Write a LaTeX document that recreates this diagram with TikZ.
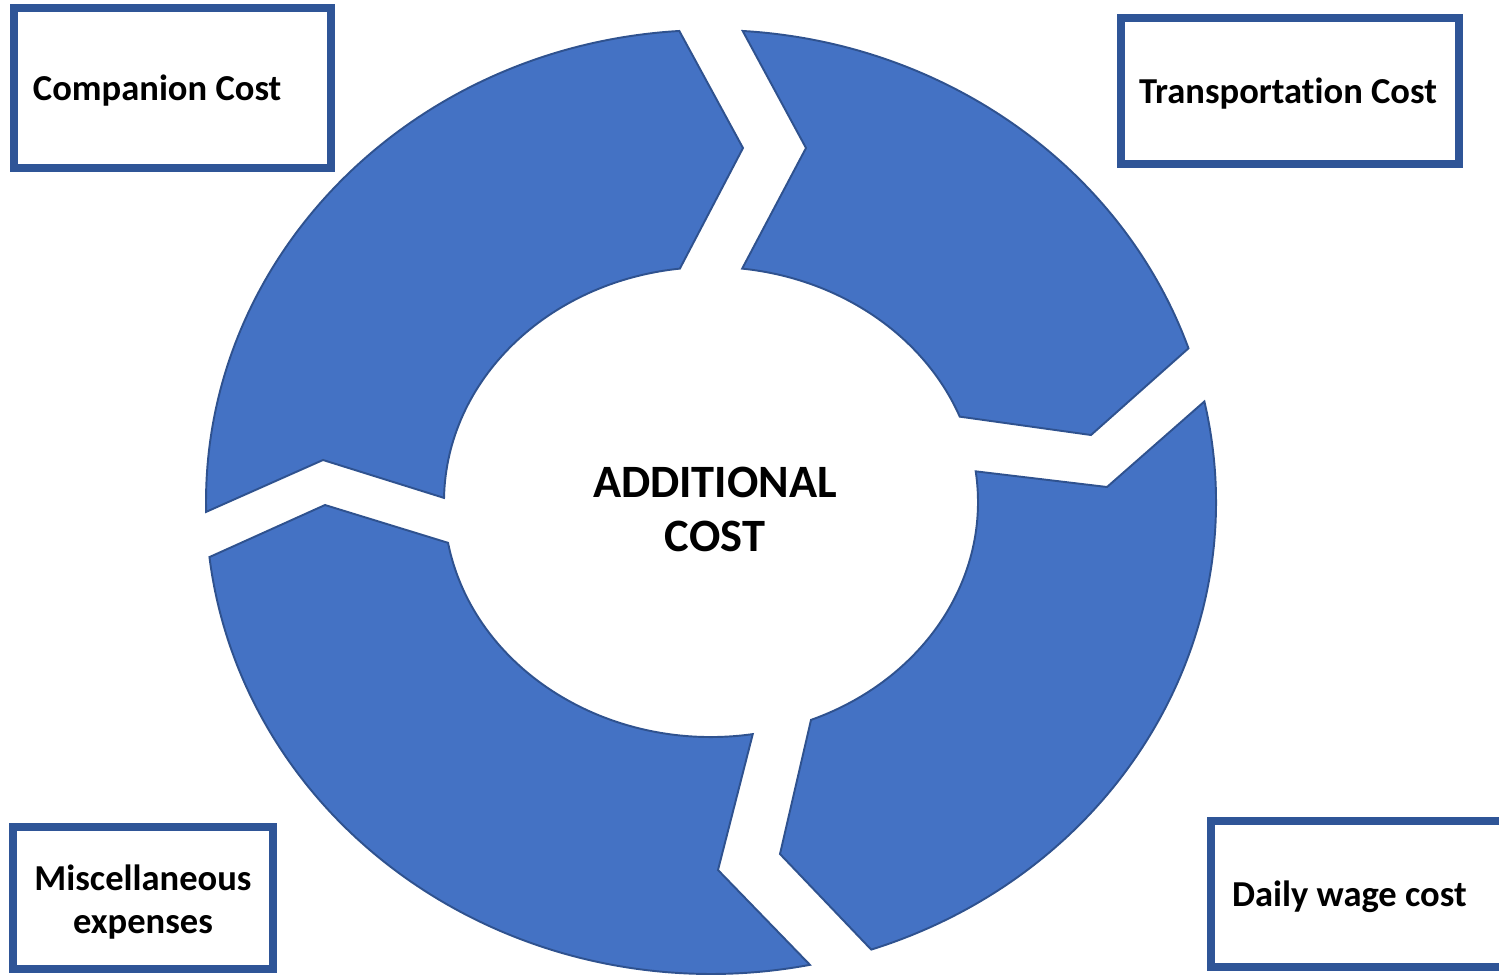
\documentclass[tikz,border=0pt]{standalone}
\usepackage{fontspec}
\setmainfont{Carlito}[Ligatures=NoCommon]
\definecolor{ringblue}{RGB}{68,114,196}
\definecolor{ringline}{RGB}{47,82,143}
\definecolor{boxline}{RGB}{47,85,151}
\newcommand{\boxfont}{\fontsize{20.8}{24.5}\selectfont\bfseries}

\begin{document}
\begin{tikzpicture}[x=0.02cm,y=0.02cm]
    \tikzstyle{segment}=[fill=ringblue, draw=ringline, line width=1.1pt, line join=miter]
    \tikzstyle{costbox}=[draw=boxline, line width=4.4pt, fill=white, anchor=north west, outer sep=0pt, font=\boxfont, inner ysep=0pt, text depth=0pt, execute at begin node={\spaceskip=0.226em\relax}]
    \useasboundingbox (0,0) rectangle (1499,-975);
    \begin{scope}[shift={(711,-502)}]
        % upper right
        \path[segment] (86.4:505 and 472) -- (95,354) -- (83.3:267 and 235)
            arc[start angle=83.3, end angle=21.3, x radius=267, y radius=235]
            -- (380,67) -- (19:505 and 472)
            arc[start angle=19, end angle=86.4, x radius=505, y radius=472] -- cycle;
        % lower right
        \path[segment] (12.3:505 and 472) -- (396,15) -- (7.5:267 and 235)
            arc[start angle=7.5, end angle=-68, x radius=267, y radius=235]
            -- (69,-352) -- (-71.5:505 and 472)
            arc[start angle=-71.5, end angle=12.3, x radius=505, y radius=472] -- cycle;
        % lower left
        \path[segment] (-78.7:505 and 472) -- (7,-368) -- (-81:267 and 235)
            arc[start angle=-81, end angle=-170, x radius=267, y radius=235]
            -- (-386,-3) -- (-173.3:505 and 472)
            arc[start angle=-173.3, end angle=-78.7, x radius=505, y radius=472] -- cycle;
        % upper left
        \path[segment] (181.2:505 and 472) -- (-388,42) -- (179:267 and 235)
            arc[start angle=179, end angle=96.7, x radius=267, y radius=235]
            -- (32,354) -- (93.6:505 and 472)
            arc[start angle=93.6, end angle=181.2, x radius=505, y radius=472] -- cycle;
    \end{scope}
    \node[font=\fontsize{26.4}{31}\selectfont\bfseries, align=center] (centre) at (715,-509.5) {ADDITIONAL\\COST};
    \node[costbox, minimum width=6.34cm, minimum height=3.2cm, inner xsep=0.38cm, text width=5.58cm, align=left] (companion) at (14,-8) {Companion Cost};
    \node[costbox, minimum width=6.76cm, minimum height=2.92cm, inner xsep=0.36cm, text width=6.04cm, align=left] (transport) at (1121,-18) {Transportation Cost};
    \node[costbox, minimum width=6.2cm, minimum height=2.92cm, inner xsep=0.42cm, text width=5.36cm, align=left] (wage) at (1211,-821) {Daily wage cost};
    \node[costbox, minimum width=5.2cm, minimum height=2.84cm, inner xsep=0.2cm, text width=4.8cm, align=center, text depth=0.83cm] (misc) at (13,-827) {Miscellaneous\\expenses};
\end{tikzpicture}
\end{document}
